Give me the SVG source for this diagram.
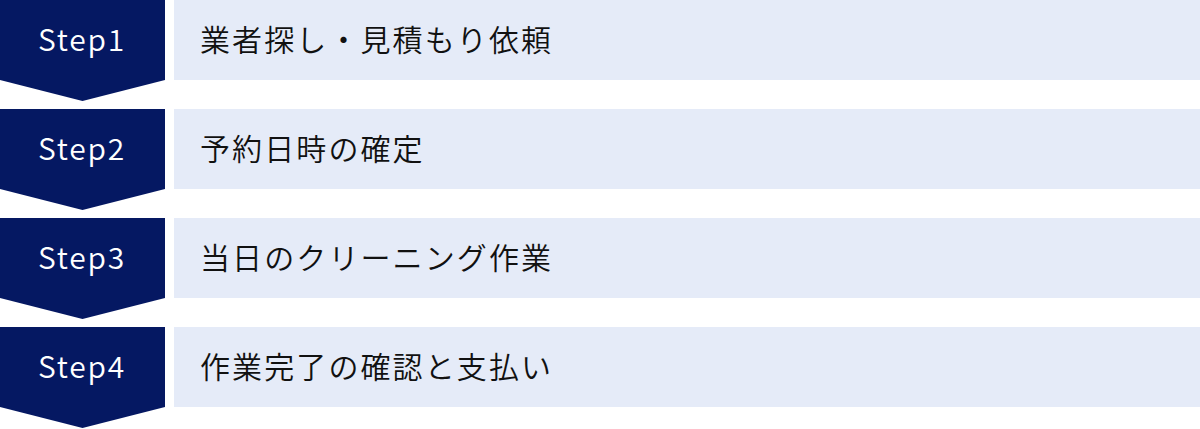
<svg xmlns="http://www.w3.org/2000/svg" width="1200" height="429" viewBox="0 0 1200 429">
<style>
.badge{fill:#051862}
.box{fill:#e5ebf8}
.step{font-family:"Noto Sans CJK JP","Noto Sans",sans-serif;font-size:30px;font-weight:350;letter-spacing:1.8px;fill:#ffffff;text-anchor:middle}
.label{font-family:"Noto Sans CJK JP","Noto Sans",sans-serif;font-size:30px;font-weight:350;letter-spacing:2.1px;fill:#111111}
</style>
<defs>
<polygon id="chev" points="0,0 165,0 165,80 82.5,101 0,80"/>
</defs>
<g id="step1">
<use href="#chev" class="badge"/>
<rect class="box" x="174" y="0" width="1026" height="80"/>
<text class="step" x="82" y="51">Step1</text>
<text class="label" x="200" y="51">業者探し・見積もり依頼</text>
</g>
<g id="step2" transform="translate(0,109)">
<use href="#chev" class="badge"/>
<rect class="box" x="174" y="0" width="1026" height="80"/>
<text class="step" x="82" y="51">Step2</text>
<text class="label" x="200" y="51">予約日時の確定</text>
</g>
<g id="step3" transform="translate(0,218)">
<use href="#chev" class="badge"/>
<rect class="box" x="174" y="0" width="1026" height="80"/>
<text class="step" x="82" y="51">Step3</text>
<text class="label" x="200" y="51">当日のクリーニング作業</text>
</g>
<g id="step4" transform="translate(0,327)">
<use href="#chev" class="badge"/>
<rect class="box" x="174" y="0" width="1026" height="80"/>
<text class="step" x="82" y="51">Step4</text>
<text class="label" x="200" y="51">作業完了の確認と支払い</text>
</g>
<g id="connectors"></g>
</svg>
